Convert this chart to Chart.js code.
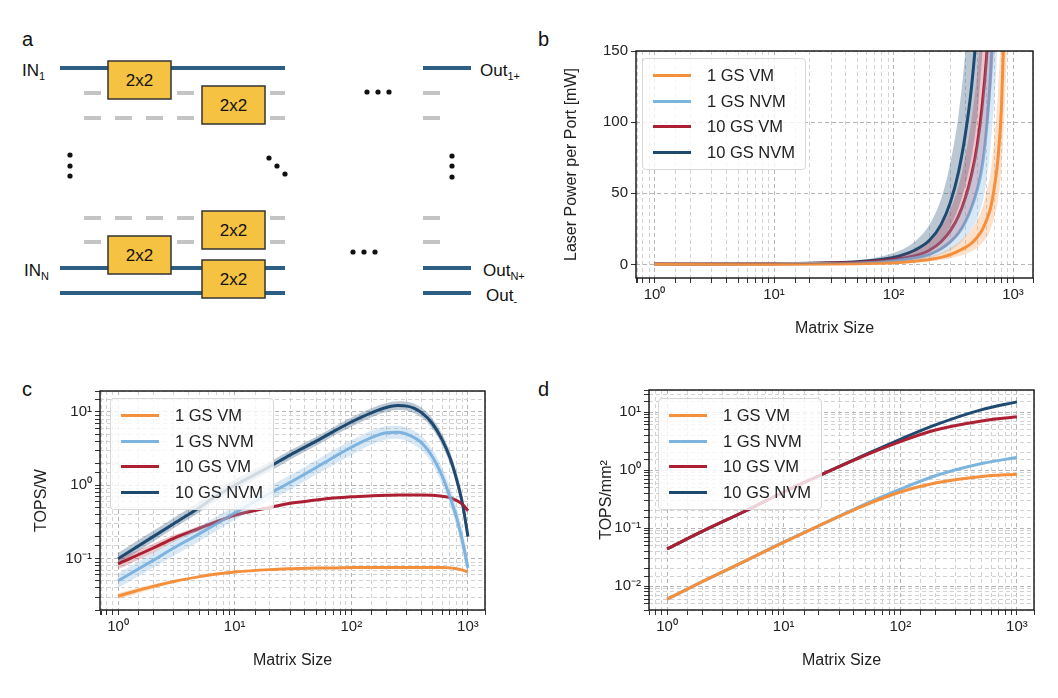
<!DOCTYPE html>
<html>
<head>
<meta charset="utf-8">
<script src="https://cdn.jsdelivr.net/npm/chart.js@4.4.1/dist/chart.umd.min.js"></script>
<style>
  body { margin: 0; background: #fff; font-family: "Liberation Sans", Arial, sans-serif; }
  #wrap { position: relative; width: 1058px; height: 698px; }
  .cv { position: absolute; }
  .lbl { position: absolute; font-size: 20px; color: #111; }
  .legend { position: absolute; border: 1px solid #d8d8d8; border-radius: 4px; background: rgba(255,255,255,0.8); padding: 4px 10px; font-size: 16.5px; color: #222; }
  .legend div { display: flex; align-items: center; height: 25.5px; }
  .legend span.sw { display: inline-block; width: 38px; height: 3px; margin-right: 16px; }
</style>
</head>
<body>
<div id="wrap">
  <svg width="560" height="330" style="position:absolute;left:0;top:0" font-family="Liberation Sans, Arial, sans-serif">
    <g stroke="#c4c4c4" stroke-width="4" stroke-dasharray="17,14">
      <line x1="84" y1="93" x2="285" y2="93"/><line x1="84" y1="118" x2="285" y2="118"/>
      <line x1="84" y1="218" x2="285" y2="218"/><line x1="84" y1="242" x2="285" y2="242"/>
      <line x1="423" y1="93" x2="441" y2="93"/><line x1="423" y1="118" x2="441" y2="118"/>
      <line x1="423" y1="218" x2="441" y2="218"/><line x1="423" y1="242" x2="441" y2="242"/>
    </g>
    <g stroke="#2d5f85" stroke-width="4">
      <line x1="60" y1="68" x2="285" y2="68"/><line x1="60" y1="268" x2="285" y2="268"/><line x1="60" y1="293" x2="285" y2="293"/>
      <line x1="423" y1="68" x2="471" y2="68"/><line x1="423" y1="268" x2="471" y2="268"/><line x1="423" y1="293" x2="471" y2="293"/>
    </g>
    <g fill="#f5c242" stroke="#333" stroke-width="1.5">
      <rect x="108" y="61" width="63" height="38"/><rect x="202" y="86" width="63" height="38"/>
      <rect x="202" y="211" width="63" height="38"/><rect x="108" y="236" width="63" height="38"/>
      <rect x="202" y="260" width="63" height="38"/>
    </g>
    <g font-size="17" text-anchor="middle" fill="#111">
      <text x="139.5" y="86">2x2</text><text x="233.5" y="111">2x2</text>
      <text x="233.5" y="236">2x2</text><text x="139.5" y="261">2x2</text><text x="233.5" y="285">2x2</text>
    </g>
    <g fill="#111">
      <circle cx="367" cy="92" r="2.6"/><circle cx="378" cy="92" r="2.6"/><circle cx="389" cy="92" r="2.6"/>
      <circle cx="353" cy="252" r="2.6"/><circle cx="364" cy="252" r="2.6"/><circle cx="375" cy="252" r="2.6"/>
      <circle cx="70" cy="155" r="2.6"/><circle cx="70" cy="166" r="2.6"/><circle cx="70" cy="176" r="2.6"/>
      <circle cx="452" cy="156" r="2.6"/><circle cx="452" cy="166" r="2.6"/><circle cx="452" cy="177" r="2.6"/>
      <circle cx="269" cy="158" r="2.6"/><circle cx="277" cy="166" r="2.6"/><circle cx="285" cy="174" r="2.6"/>
    </g>
    <g font-size="17" fill="#111">
      <text x="22" y="76">IN<tspan font-size="11" dy="4">1</tspan></text>
      <text x="24" y="276">IN<tspan font-size="11" dy="4">N</tspan></text>
      <text x="480" y="76">Out<tspan font-size="11" dy="4">1+</tspan></text>
      <text x="483" y="276">Out<tspan font-size="11" dy="4">N+</tspan></text>
      <text x="486" y="301">Out<tspan font-size="11" dy="4">-</tspan></text>
    </g>
  </svg>
  <div class="lbl" style="left:22px;top:28px">a</div>
  <div class="lbl" style="left:538px;top:28px">b</div>
  <div class="lbl" style="left:22px;top:378px">c</div>
  <div class="lbl" style="left:538px;top:378px">d</div>
  <canvas id="chartB" class="cv"></canvas>
  <canvas id="chartC" class="cv"></canvas>
  <canvas id="chartD" class="cv"></canvas>
</div>
<script>
/* 系列カラー */
const seriesNames = ['1 GS VM', '1 GS NVM', '10 GS VM', '10 GS NVM'];
const seriesColors = ['#f4903c', '#7db4de', '#ad1f33', '#1f4a70'];
const bandColors = ['rgba(244,144,60,0.28)', 'rgba(125,180,222,0.3)', 'rgba(173,31,51,0.25)', 'rgba(31,74,112,0.3)'];

/* b: Laser Power per Port [mW] */
const xsB = [1, 10, 30, 50, 100, 150, 200, 250, 300, 350, 400, 450, 500, 550, 600, 650, 700, 750, 800, 850, 900];
const powVM1 = [0.1, 0.2, 0.4, 0.6, 1.2, 2.3, 3.5, 5, 7, 9.5, 12, 15, 19, 24, 31, 40, 55, 75, 110, 175, 260];
const powVM1Hi = [0.12, 0.3, 0.6, 0.9, 2, 3.7, 5.7, 8.2, 11.5, 15.5, 19.6, 24.5, 31, 39, 51, 65, 90, 122, 180, 285, 425];
const powVM1Lo = [0.08, 0.14, 0.25, 0.4, 0.75, 1.4, 2.2, 3.1, 4.3, 5.9, 7.4, 9.3, 11.8, 14.9, 19, 25, 34, 46, 68, 108, 160];
const powNVM1 = [0.2, 0.4, 0.7, 1.1, 2.5, 4.5, 7, 11, 16, 22, 30, 40, 52, 68, 95, 135, 190, 260, 350, 470, 620];
const powNVM1Hi = [0.25, 0.55, 1, 1.6, 4, 7.3, 11.5, 18, 26, 36, 49, 65, 85, 111, 155, 220, 310, 425, 570, 765, 1010];
const powNVM1Lo = [0.15, 0.3, 0.5, 0.75, 1.6, 2.9, 4.4, 7, 10, 14, 19, 25, 32, 42, 59, 84, 118, 160, 215, 290, 385];
const powVM10 = [0.3, 0.5, 1, 1.6, 3.5, 6, 10, 16, 24, 34, 47, 63, 83, 110, 145, 190, 250, 330, 430, 560, 720];
const powVM10Hi = [0.35, 0.7, 1.4, 2.3, 5.5, 9.5, 16, 26, 39, 55, 76, 102, 134, 178, 235, 308, 405, 535, 700, 910, 1170];
const powVM10Lo = [0.25, 0.4, 0.75, 1.1, 2.3, 3.9, 6.5, 10, 15, 21, 29, 39, 51, 68, 90, 118, 155, 205, 265, 345, 445];
const powNVM10 = [0.3, 0.6, 1.2, 2, 5, 10, 17, 28, 44, 65, 92, 125, 170, 240, 330, 450, 600, 800, 1050, 1350, 1700];
const powNVM10Hi = [0.35, 0.8, 1.6, 2.8, 8, 16, 28, 46, 72, 105, 150, 205, 280, 390, 540, 740, 990, 1300, 1700, 2200, 2800];
const powNVM10Lo = [0.25, 0.45, 0.9, 1.4, 3.2, 6.3, 11, 17, 27, 40, 56, 76, 103, 145, 200, 270, 360, 480, 640, 820, 1030];
const powTicks = [0, 50, 100, 150];

/* c: TOPS/W */
const xsC = [1, 2, 3, 5, 7, 10, 20, 30, 50, 70, 100, 150, 200, 250, 300, 400, 500, 600, 700, 800, 900, 1000];
const effVM1 = [0.031, 0.042, 0.049, 0.057, 0.062, 0.066, 0.071, 0.073, 0.075, 0.075, 0.076, 0.076, 0.076, 0.076, 0.076, 0.076, 0.076, 0.076, 0.075, 0.073, 0.07, 0.066];
const effVM1Hi = [0.034, 0.045, 0.051, 0.059, 0.064, 0.068, 0.072, 0.074, 0.076, 0.076, 0.077, 0.077, 0.077, 0.077, 0.077, 0.077, 0.077, 0.077, 0.076, 0.074, 0.071, 0.067];
const effVM1Lo = [0.028, 0.039, 0.047, 0.055, 0.06, 0.064, 0.07, 0.072, 0.074, 0.074, 0.075, 0.075, 0.075, 0.075, 0.075, 0.075, 0.075, 0.075, 0.074, 0.072, 0.069, 0.064];
const effNVM1 = [0.05, 0.095, 0.14, 0.22, 0.3, 0.42, 0.78, 1.1, 1.75, 2.4, 3.3, 4.5, 5.2, 5.3, 5, 3.8, 2.4, 1.35, 0.7, 0.36, 0.17, 0.075];
const effNVM1Hi = [0.063, 0.12, 0.175, 0.275, 0.375, 0.52, 0.98, 1.38, 2.2, 3, 4.1, 5.6, 6.4, 6.5, 6.1, 4.7, 3, 1.75, 0.95, 0.5, 0.24, 0.1];
const effNVM1Lo = [0.04, 0.076, 0.11, 0.175, 0.24, 0.34, 0.62, 0.88, 1.4, 1.9, 2.6, 3.6, 4.2, 4.3, 4, 3, 1.9, 1.05, 0.55, 0.27, 0.12, 0.055];
const effVM10 = [0.085, 0.14, 0.19, 0.26, 0.32, 0.39, 0.5, 0.57, 0.63, 0.67, 0.7, 0.72, 0.73, 0.74, 0.74, 0.74, 0.73, 0.71, 0.68, 0.62, 0.55, 0.45];
const effVM10Hi = [0.1, 0.16, 0.21, 0.28, 0.34, 0.41, 0.52, 0.59, 0.65, 0.69, 0.72, 0.74, 0.75, 0.76, 0.76, 0.76, 0.75, 0.73, 0.7, 0.64, 0.57, 0.47];
const effVM10Lo = [0.072, 0.12, 0.17, 0.24, 0.3, 0.37, 0.48, 0.55, 0.61, 0.65, 0.68, 0.7, 0.71, 0.72, 0.72, 0.72, 0.71, 0.69, 0.66, 0.6, 0.53, 0.43];
const effNVM10 = [0.1, 0.2, 0.3, 0.5, 0.72, 1.0, 1.8, 2.6, 4, 5.4, 7.3, 9.8, 11.5, 12.2, 12, 9.8, 6.8, 4.2, 2.4, 1.2, 0.55, 0.2];
const effNVM10Hi = [0.12, 0.24, 0.36, 0.6, 0.85, 1.2, 2.1, 3, 4.6, 6.2, 8.4, 11.3, 13.2, 14, 13.8, 11.4, 8, 5, 2.9, 1.5, 0.7, 0.26];
const effNVM10Lo = [0.085, 0.17, 0.26, 0.43, 0.62, 0.86, 1.55, 2.25, 3.45, 4.7, 6.3, 8.5, 10, 10.6, 10.4, 8.4, 5.8, 3.5, 2, 1, 0.45, 0.16];

/* d: TOPS/mm² */
const xsD = [1, 2, 5, 10, 20, 50, 100, 200, 500, 1000];
const denVM1 = [0.006, 0.012, 0.029, 0.057, 0.11, 0.25, 0.42, 0.6, 0.78, 0.85];
const denNVM1 = [0.006, 0.012, 0.029, 0.058, 0.11, 0.26, 0.47, 0.8, 1.3, 1.65];
const denVM10 = [0.044, 0.088, 0.21, 0.42, 0.8, 1.8, 3.1, 4.9, 7, 8.3];
const denNVM10 = [0.044, 0.088, 0.21, 0.42, 0.8, 1.85, 3.4, 6, 11, 15];

const FONT = 'Liberation Sans, Arial, sans-serif';
const SUP = { '-': '⁻', '0': '⁰', '1': '¹', '2': '²', '3': '³' };

function pts(xs, ys) {
    return xs.map((x, i) => ({ x: x, y: ys[i] }));
}

function logLabel(v) {
    const e = Math.log10(v);
    if (Math.abs(e - Math.round(e)) > 1e-6) return '';
    return '10' + String(Math.round(e)).split('').map(c => SUP[c]).join('');
}

function isMajor(v) {
    const e = Math.log10(v);
    return Math.abs(e - Math.round(e)) < 1e-6;
}

// 中心線と上下バンドのデータセットを作成
function buildSets(xs, mains, his, los) {
    const sets = [];
    mains.forEach((m, i) => {
        if (his && his[i]) {
            sets.push({ data: pts(xs, his[i]), borderWidth: 0, pointRadius: 0, fill: false, cubicInterpolationMode: 'monotone' });
            sets.push({ data: pts(xs, los[i]), borderWidth: 0, pointRadius: 0, fill: '-1', backgroundColor: bandColors[i], cubicInterpolationMode: 'monotone' });
        }
    });
    mains.forEach((m, i) => {
        sets.push({ data: pts(xs, m), borderColor: seriesColors[i], borderWidth: 3, pointRadius: 0, fill: false, cubicInterpolationMode: 'monotone' });
    });
    return sets;
}

const framePlugin = {
    id: 'frame',
    afterDraw(chart) {
        const a = chart.chartArea, c = chart.ctx;
        c.save();
        c.strokeStyle = '#111';
        c.lineWidth = 1.4;
        c.strokeRect(a.left, a.top, a.right - a.left, a.bottom - a.top);
        c.restore();
    }
};

function logX(min, max) {
    return {
        type: 'logarithmic', min: min, max: max,
        title: { display: true, text: 'Matrix Size', font: { family: FONT, size: 16 }, color: '#222', padding: { top: 0 } },
        ticks: { autoSkip: false, maxRotation: 0, font: { family: FONT, size: 15 }, color: '#222', callback: v => logLabel(v) },
        grid: { color: ctx => isMajor(ctx.tick.value) ? '#b5b5b5' : '#d2d2d2', tickLength: 5, tickColor: '#333' },
        border: { dash: [4, 3], display: false },
        afterFit: s => { s.height = 64; }
    };
}

function makeChart(id, box, yWidth, datasets, yScale) {
    const cv = document.getElementById(id);
    const w = yWidth + box.w + 12;
    let h = 12 + box.h + 64;
    cv.style.width = w + 'px';
    cv.style.height = h + 'px';
    cv.width = w; cv.height = h;
    yScale.afterFit = s => { s.width = yWidth; };
    const chart = new Chart(cv.getContext('2d'), {
        type: 'line',
        data: { datasets: datasets },
        options: {
            responsive: false, animation: false, maintainAspectRatio: false,
            layout: { padding: { top: 6, right: 12, left: 0, bottom: 0 } },
            plugins: { legend: { display: false }, tooltip: { enabled: false } },
            scales: { x: box.xScale, y: yScale }
        },
        plugins: [framePlugin]
    });
    // プロット領域を目標位置に合わせる
    const a = chart.chartArea;
    const extra = box.h - (a.bottom - a.top);
    if (Math.abs(extra) > 0.5) {
        h += extra;
        chart.resize(w, h);
    }
    const a2 = chart.chartArea;
    cv.style.left = (box.x - a2.left) + 'px';
    cv.style.top = (box.y - a2.top) + 'px';
    return chart;
}

function makeLegend(left, top) {
    const el = document.createElement('div');
    el.className = 'legend';
    el.style.left = left + 'px';
    el.style.top = top + 'px';
    seriesNames.forEach((n, i) => {
        const row = document.createElement('div');
        row.innerHTML = '<span class="sw" style="background:' + seriesColors[i] + '"></span>' + n;
        el.appendChild(row);
    });
    document.getElementById('wrap').appendChild(el);
}

const yFont = { family: FONT, size: 15 };
const yTitle = t => ({ display: true, text: t, font: { family: FONT, size: 16 }, color: '#222', padding: { bottom: 2 } });

// b
makeChart('chartB', { x: 636, y: 51, w: 397, h: 227, xScale: logX(0.72, 1470) }, 78,
    buildSets(xsB, [powVM1, powNVM1, powVM10, powNVM10], [powVM1Hi, powNVM1Hi, powVM10Hi, powNVM10Hi], [powVM1Lo, powNVM1Lo, powVM10Lo, powNVM10Lo]),
    {
        type: 'linear', min: -9.5, max: 150,
        title: yTitle('Laser Power per Port [mW]'),
        afterBuildTicks: s => { s.ticks = powTicks.map(v => ({ value: v })); },
        ticks: { font: yFont, color: '#222' },
        grid: { color: '#b5b5b5', tickLength: 5, tickColor: '#333' },
        border: { dash: [4, 3], display: false }
    });

// c
makeChart('chartC', { x: 100, y: 391, w: 385, h: 219, xScale: logX(0.72, 1400) }, 72,
    buildSets(xsC, [effVM1, effNVM1, effVM10, effNVM10], [effVM1Hi, effNVM1Hi, effVM10Hi, effNVM10Hi], [effVM1Lo, effNVM1Lo, effVM10Lo, effNVM10Lo]),
    {
        type: 'logarithmic', min: 0.02, max: 19.3,
        title: yTitle('TOPS/W'),
        ticks: { autoSkip: false, font: yFont, color: '#222', callback: v => logLabel(v) },
        grid: { color: ctx => isMajor(ctx.tick.value) ? '#b5b5b5' : '#d2d2d2', tickLength: 5, tickColor: '#333' },
        border: { dash: [4, 3], display: false }
    });

// d
makeChart('chartD', { x: 649, y: 390, w: 385, h: 220, xScale: logX(0.70, 1400) }, 56,
    buildSets(xsD, [denVM1, denNVM1, denVM10, denNVM10], null, null),
    {
        type: 'logarithmic', min: 0.0039, max: 24,
        title: yTitle('TOPS/mm²'),
        ticks: { autoSkip: false, font: yFont, color: '#222', callback: v => logLabel(v) },
        grid: { color: ctx => isMajor(ctx.tick.value) ? '#b5b5b5' : '#d2d2d2', tickLength: 5, tickColor: '#333' },
        border: { dash: [4, 3], display: false }
    });

makeLegend(642, 58);
makeLegend(110, 398);
makeLegend(658, 398);
</script>
</body>
</html>
